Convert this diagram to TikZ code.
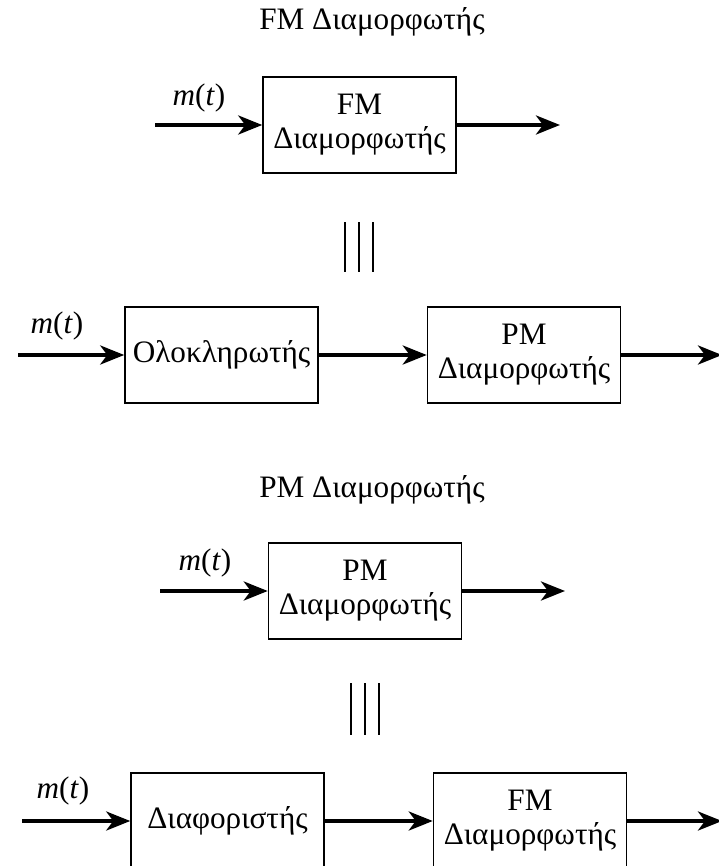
\documentclass[tikz,border=0pt]{standalone}
\usepackage{fontspec}
\setmainfont{Liberation Serif}
\usepackage{tikz}
\usetikzlibrary{arrows.meta, positioning}

\begin{document}
\begin{tikzpicture}[
    x=0.5pt, y=-0.5pt,
    node distance=54pt,
    block/.style={rectangle, draw=black, line width=0.75pt,
                  minimum width=96.5pt, minimum height=48pt,
                  align=center, inner sep=0pt, font=\fontsize{15.6}{17}\selectfont},
    heading/.style={anchor=base, font=\fontsize{15.6}{17}\selectfont},
    sig/.style={anchor=south, font=\fontsize{15.6}{17}\selectfont},
    arr/.style={-{Stealth[length=12pt, width=9.5pt, inset=3.5pt]}, line width=1.9pt},
    bar/.style={line width=0.8pt}
  ]
    \useasboundingbox (0,0) rectangle (718,866);

    % FM modulator
    \node[heading] (fmhead) at (372,30) {FM Διαμορφωτής};
    \node[block] (fm1) at (359.5,125) {FM\\Διαμορφωτής};
    \coordinate (in1) at (155,125);
    \coordinate (out1) at (560,125);
    \node[sig] (m1) at (199,119) {\textit{m}(\textit{t})};
    \draw[arr] (in1) -- (fm1);
    \draw[arr] (fm1) -- (out1);

    \foreach \x in {345,359,373}
      \draw[bar] (\x,222) -- (\x,272);

    \node[block] (integ) at (221.5,355) {Ολοκληρωτής};
    \node[block, right=of integ] (pm2) {PM\\Διαμορφωτής};
    \coordinate (in2) at (18,355);
    \coordinate (out2) at (722,355);
    \node[sig] (m2) at (57,347) {\textit{m}(\textit{t})};
    \draw[arr] (in2)   -- (integ);
    \draw[arr] (integ) -- (pm2);
    \draw[arr] (pm2)   -- (out2);

    % PM modulator
    \node[heading] (pmhead) at (372,497) {PM Διαμορφωτής};
    \node[block] (pm3) at (365,591) {PM\\Διαμορφωτής};
    \coordinate (in3) at (160,591);
    \coordinate (out3) at (565,591);
    \node[sig] (m3) at (205,584) {\textit{m}(\textit{t})};
    \draw[arr] (in3) -- (pm3);
    \draw[arr] (pm3) -- (out3);

    \foreach \x in {351,365,379}
      \draw[bar] (\x,683) -- (\x,735);

    \node[block] (diff) at (227.5,821) {Διαφοριστής};
    \node[block, right=of diff] (fm4) {FM\\Διαμορφωτής};
    \coordinate (in4) at (22,821);
    \coordinate (out4) at (722,821);
    \node[sig] (m4) at (63,812) {\textit{m}(\textit{t})};
    \draw[arr] (in4)  -- (diff);
    \draw[arr] (diff) -- (fm4);
    \draw[arr] (fm4)  -- (out4);
\end{tikzpicture}
\end{document}
